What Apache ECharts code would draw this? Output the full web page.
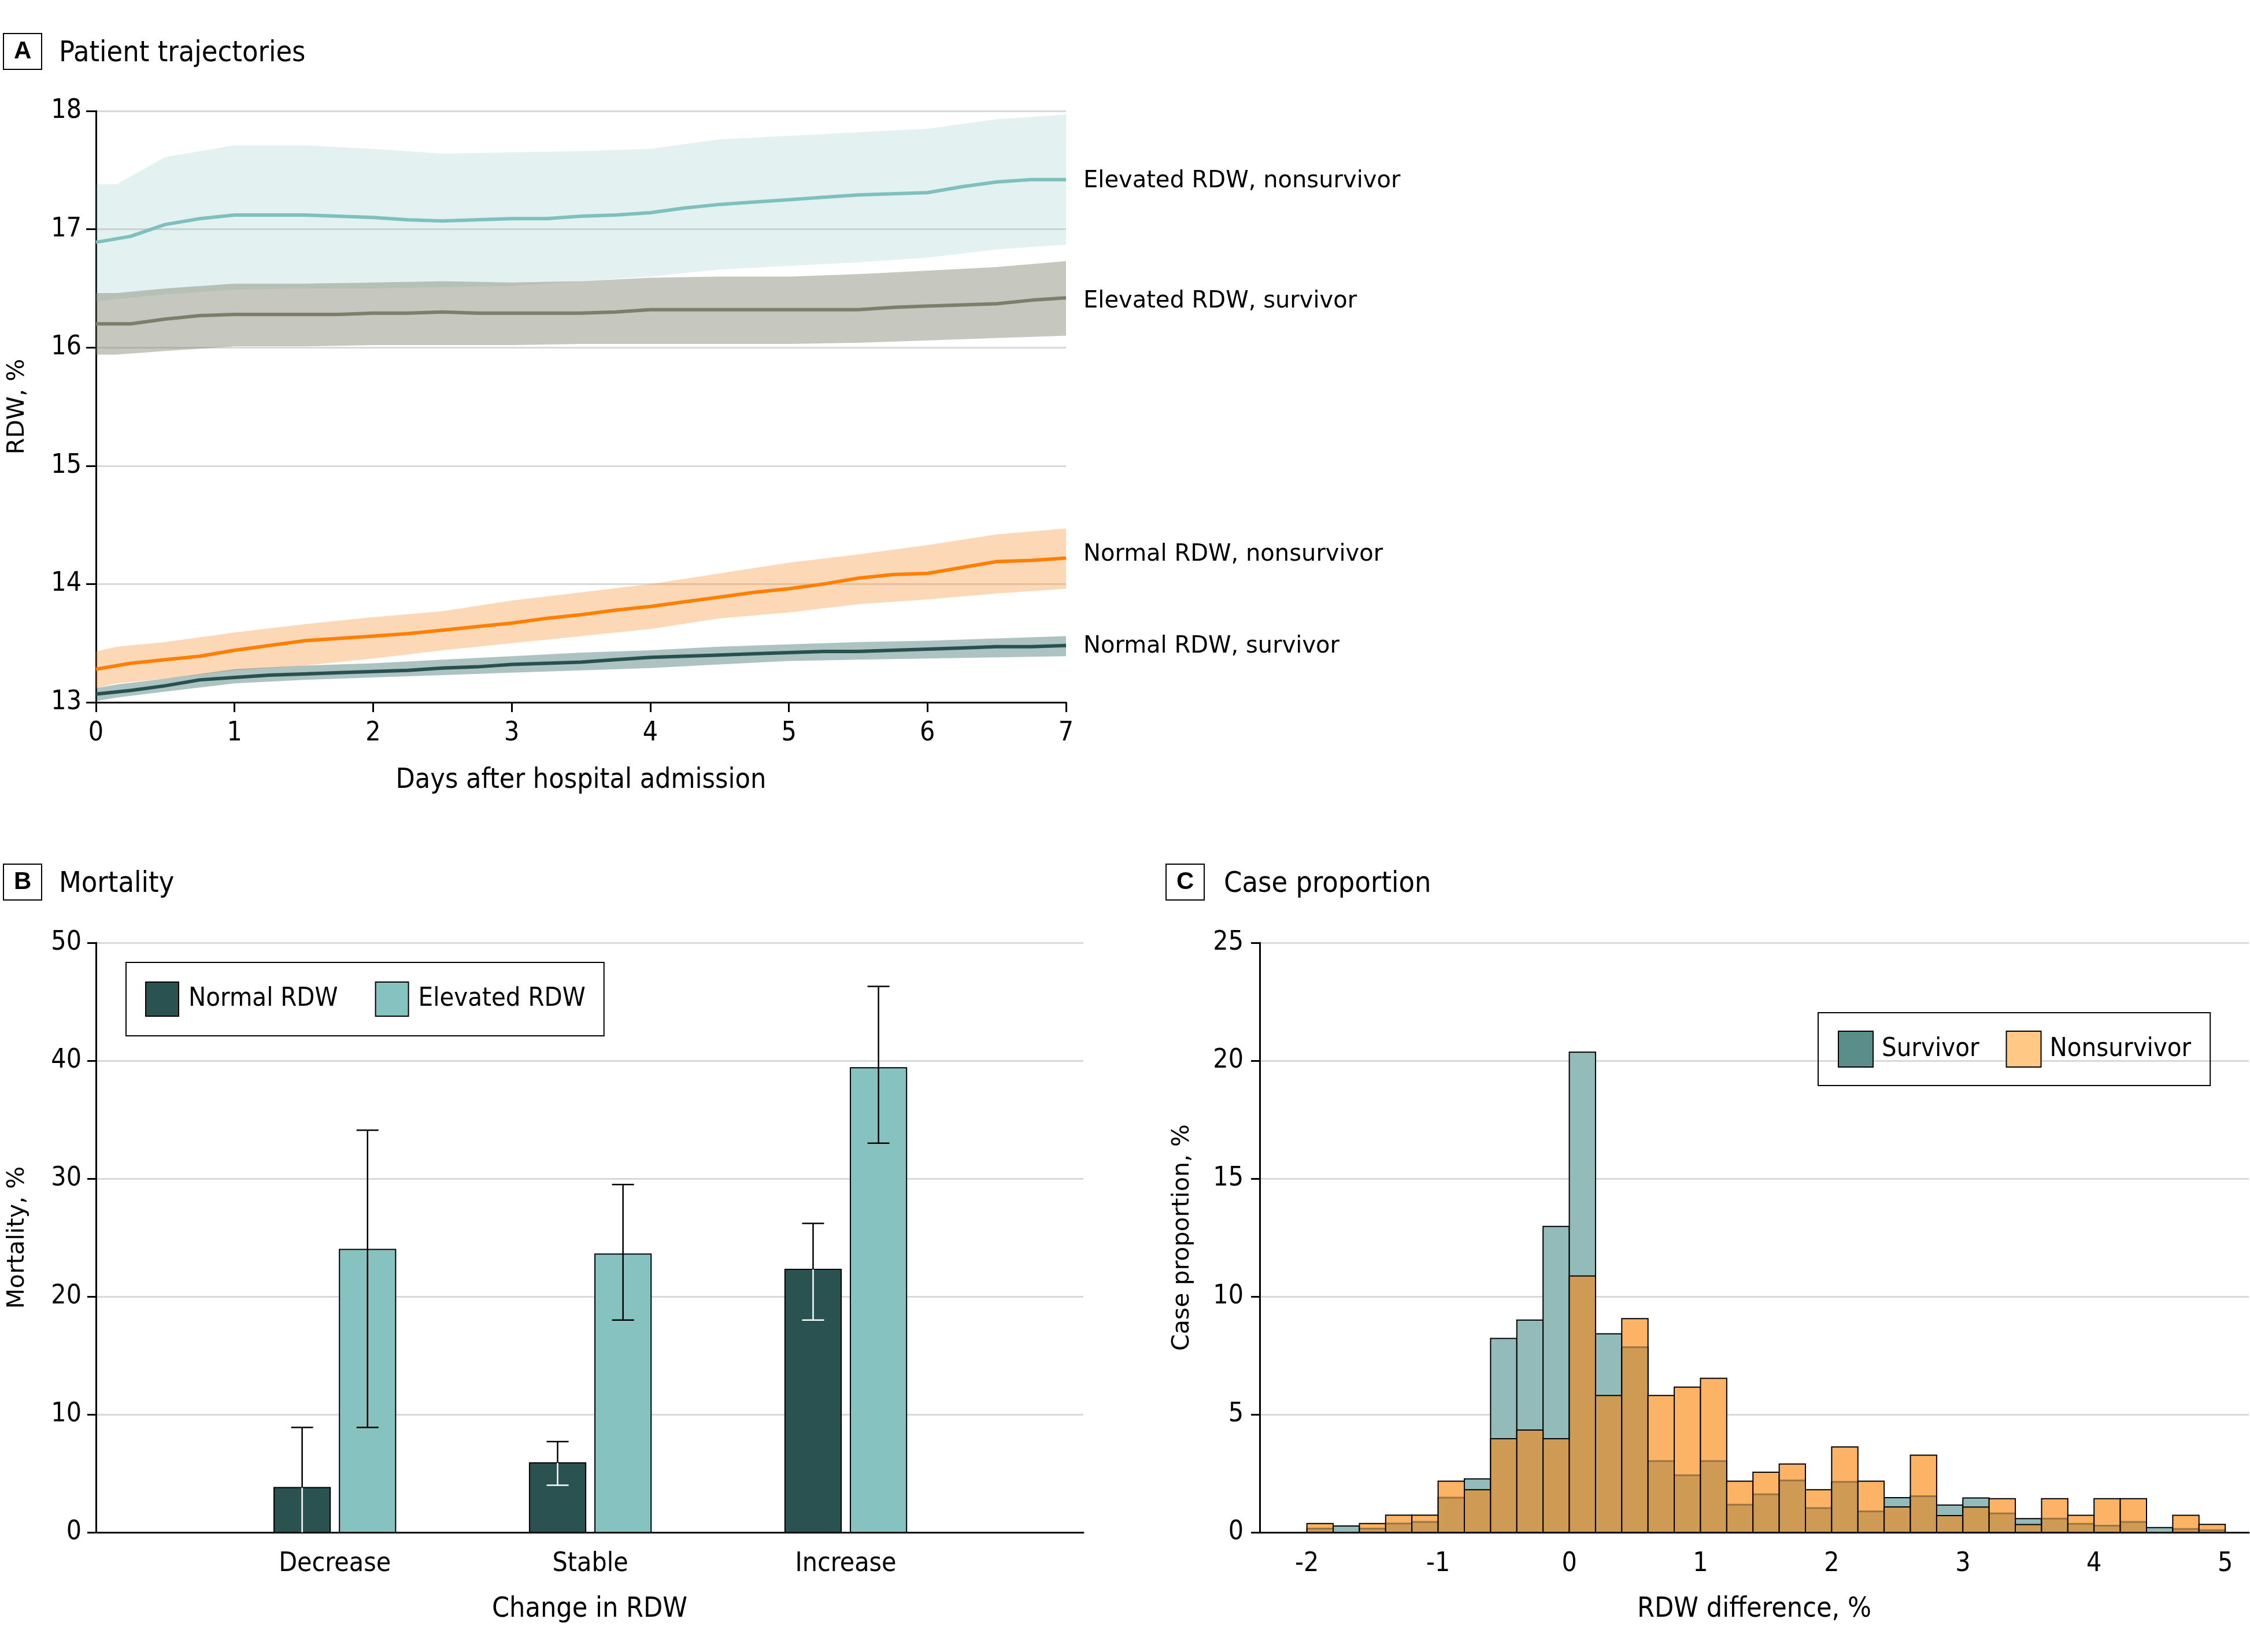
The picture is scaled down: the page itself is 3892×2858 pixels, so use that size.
<!DOCTYPE html>
<html><head><meta charset="utf-8">
<script src="https://cdn.jsdelivr.net/npm/echarts@6/dist/echarts.min.js"></script>
<style>html,body{margin:0;padding:0;background:#fff}#c{width:3892px;height:2858px}</style>
</head><body><div id="c"></div>
<script>
// ---------- Panel A data ----------
const lineDays = [0,0.25,0.5,0.75,1,1.25,1.5,1.75,2,2.25,2.5,2.75,3,3.25,3.5,3.75,4,4.25,4.5,4.75,5,5.25,5.5,5.75,6,6.25,6.5,6.75,7];
const elevNonsurv = [16.89,16.94,17.04,17.09,17.12,17.12,17.12,17.11,17.10,17.08,17.07,17.08,17.09,17.09,17.11,17.12,17.14,17.18,17.21,17.23,17.25,17.27,17.29,17.30,17.31,17.36,17.40,17.42,17.42];
const elevSurv    = [16.20,16.20,16.24,16.27,16.28,16.28,16.28,16.28,16.29,16.29,16.30,16.29,16.29,16.29,16.29,16.30,16.32,16.32,16.32,16.32,16.32,16.32,16.32,16.34,16.35,16.36,16.37,16.40,16.42];
const normNonsurv = [13.28,13.33,13.36,13.39,13.44,13.48,13.52,13.54,13.56,13.58,13.61,13.64,13.67,13.71,13.74,13.78,13.81,13.85,13.89,13.93,13.96,14.00,14.05,14.08,14.09,14.14,14.19,14.20,14.22];
const normSurv    = [13.07,13.10,13.14,13.19,13.21,13.23,13.24,13.25,13.26,13.27,13.29,13.30,13.32,13.33,13.34,13.36,13.38,13.39,13.40,13.41,13.42,13.43,13.43,13.44,13.45,13.46,13.47,13.47,13.48];

const bandDays = [0,0.15,0.5,1,1.5,2,2.5,3,3.5,4,4.5,5,5.5,6,6.5,7];
const elevNonsurvHi = [17.38,17.38,17.61,17.71,17.71,17.68,17.64,17.65,17.66,17.68,17.76,17.79,17.82,17.85,17.93,17.97];
const elevNonsurvLo = [16.39,16.41,16.45,16.49,16.50,16.50,16.51,16.52,16.56,16.60,16.66,16.69,16.72,16.76,16.83,16.87];
const elevSurvHi    = [16.46,16.46,16.50,16.54,16.54,16.55,16.56,16.55,16.56,16.59,16.60,16.60,16.62,16.65,16.68,16.73];
const elevSurvLo    = [15.94,15.94,15.97,16.01,16.01,16.02,16.02,16.02,16.03,16.03,16.03,16.03,16.04,16.06,16.08,16.10];
const normNonsurvHi = [13.43,13.47,13.51,13.59,13.66,13.72,13.77,13.86,13.93,14.00,14.09,14.18,14.25,14.33,14.42,14.47];
const normNonsurvLo = [13.12,13.16,13.20,13.27,13.31,13.37,13.44,13.50,13.56,13.62,13.71,13.76,13.83,13.87,13.92,13.96];
const normSurvHi    = [13.12,13.15,13.20,13.28,13.31,13.33,13.36,13.39,13.42,13.44,13.47,13.49,13.51,13.52,13.54,13.56];
const normSurvLo    = [13.01,13.04,13.09,13.16,13.19,13.21,13.23,13.25,13.27,13.29,13.32,13.35,13.36,13.37,13.38,13.39];

// ---------- Panel B data ----------
const categories = ['Decrease','Stable','Increase'];
const normalMort = [3.8, 5.9, 22.3];
const normalLow  = [0, 4.0, 18.0];
const normalHigh = [8.9, 7.7, 26.2];
const elevMort   = [24.0, 23.6, 39.4];
const elevLow    = [8.9, 18.0, 33.0];
const elevHigh   = [34.1, 29.5, 46.3];

// ---------- Panel C data ----------
const binLefts = [-2.0,-1.8,-1.6,-1.4,-1.2,-1.0,-0.8,-0.6,-0.4,-0.2,0.0,0.2,0.4,0.6,0.8,1.0,1.2,1.4,1.6,1.8,2.0,2.2,2.4,2.6,2.8,3.0,3.2,3.4,3.6,3.8,4.0,4.2,4.4,4.6,4.8];
const binWidth = 0.2;
const survivorPct    = [0.16,0.27,0.16,0.375,0.44,1.47,2.27,8.22,9.0,12.97,20.36,8.42,7.85,3.02,2.42,3.02,1.17,1.61,2.2,1.03,2.14,0.89,1.47,1.53,1.16,1.46,0.8,0.58,0.58,0.36,0.28,0.44,0.2,0.14,0.09];
const nonsurvivorPct = [0.375,0,0.375,0.73,0.73,2.17,1.81,3.97,4.34,3.97,10.87,5.8,9.06,5.8,6.16,6.53,2.17,2.55,2.9,1.81,3.62,2.17,1.08,3.27,0.71,1.07,1.43,0.33,1.43,0.72,1.43,1.43,0,0.72,0.34];
const histTicks = [-2,-1,0,1,2,3,4,5];

// ---------- styles ----------
const F = '"DejaVu Sans Condensed", "Liberation Sans Narrow", sans-serif';
const FW = '"DejaVu Sans", sans-serif';
const TXT = '#000';
const GRIDC = '#D9D9D9';

const chart = echarts.init(document.getElementById('c'), null, {renderer: 'canvas', width: 3892, height: 2858});

function bandSeries(lo, hi, color) {
  return {
    type: 'custom', xAxisIndex: 0, yAxisIndex: 0, z: 1, silent: true,
    data: bandDays.map((d, i) => [d, lo[i], hi[i]]),
    renderItem: (params, api) => {
      if (params.dataIndex !== 0) return null;
      const pts = [];
      for (let i = 0; i < bandDays.length; i++) pts.push(api.coord([bandDays[i], hi[i]]));
      for (let i = bandDays.length - 1; i >= 0; i--) pts.push(api.coord([bandDays[i], lo[i]]));
      return {type: 'polygon', shape: {points: pts}, style: {fill: color}};
    }
  };
}
function lineSeries(name, vals, color, offY) {
  return {
    type: 'line', name, xAxisIndex: 0, yAxisIndex: 0, z: 3, showSymbol: false, silent: true,
    data: lineDays.map((d, i) => [d, vals[i]]),
    lineStyle: {color, width: 6, join: 'round'},
    itemStyle: {color},
    endLabel: {show: true, formatter: name, distance: 30, offset: [0, offY || 0], fontSize: 40, fontFamily: FW, color: TXT}
  };
}

const barHalf = 0.11, barOff = 0.128;
function barSeries(name, vals, color, sign) {
  return {
    type: 'custom', name, xAxisIndex: 1, yAxisIndex: 1, z: 2,
    itemStyle: {color},
    data: vals.map((v, i) => [i + 1, v]),
    renderItem: (params, api) => {
      const x = api.value(0) + sign * barOff, v = api.value(1);
      const a = api.coord([x - barHalf, v]), b = api.coord([x + barHalf, 0]);
      return {type: 'rect', shape: {x: a[0], y: a[1], width: b[0] - a[0], height: b[1] - a[1]},
        style: {fill: color, stroke: '#000', lineWidth: 2}};
    }
  };
}
function errSeries(vals, lows, highs, sign, dark) {
  return {
    type: 'custom', xAxisIndex: 1, yAxisIndex: 1, z: 4, silent: true,
    data: vals.map((v, i) => [i + 1, lows[i], highs[i], v]),
    renderItem: (params, api) => {
      const x = api.value(0) + sign * barOff;
      const lo = api.value(1), hi = api.value(2), top = api.value(3);
      const pLo = api.coord([x, lo]), pHi = api.coord([x, hi]), pTop = api.coord([x, top]);
      const cap = 19, w = 2.5;
      const inner = dark ? '#fff' : '#000';
      const ch = [];
      ch.push({type: 'line', shape: {x1: pLo[0], y1: pLo[1], x2: pTop[0], y2: Math.max(pTop[1], pHi[1])}, style: {stroke: inner, lineWidth: w}});
      if (hi > top) ch.push({type: 'line', shape: {x1: pTop[0], y1: pTop[1], x2: pHi[0], y2: pHi[1]}, style: {stroke: '#000', lineWidth: w}});
      ch.push({type: 'line', shape: {x1: pHi[0] - cap, y1: pHi[1], x2: pHi[0] + cap, y2: pHi[1]}, style: {stroke: hi > top ? '#000' : inner, lineWidth: w}});
      if (lo > 0) ch.push({type: 'line', shape: {x1: pLo[0] - cap, y1: pLo[1], x2: pLo[0] + cap, y2: pLo[1]}, style: {stroke: lo < top ? inner : '#000', lineWidth: w}});
      return {type: 'group', children: ch};
    }
  };
}

const SURV_FILL = '#93BBB9', NON_FILL = '#FDB366', OVER_FILL = '#CF9B54';
const survivorSeries = {
  type: 'custom', name: 'Survivor', xAxisIndex: 2, yAxisIndex: 2, z: 2,
  itemStyle: {color: '#5A8E8A'},
  data: binLefts.map((b, i) => [b, survivorPct[i]]),
  renderItem: (params, api) => {
    const x0 = api.value(0), v = api.value(1);
    if (!(v > 0)) return null;
    const a = api.coord([x0, v]), b = api.coord([x0 + binWidth, 0]);
    return {type: 'rect', shape: {x: a[0], y: a[1], width: b[0] - a[0], height: b[1] - a[1]},
      style: {fill: SURV_FILL, stroke: '#000', lineWidth: 2}};
  }
};
const nonsurvivorSeries = {
  type: 'custom', name: 'Nonsurvivor', xAxisIndex: 2, yAxisIndex: 2, z: 3,
  itemStyle: {color: '#FFC985'},
  data: binLefts.map((b, i) => [b, nonsurvivorPct[i], survivorPct[i]]),
  renderItem: (params, api) => {
    const x0 = api.value(0), n = api.value(1), s = api.value(2);
    if (!(n > 0)) return null;
    const ch = [];
    const m = Math.min(n, s);
    const base = api.coord([x0 + binWidth, 0]);
    if (m > 0) {
      const a = api.coord([x0, m]);
      ch.push({type: 'rect', shape: {x: a[0], y: a[1], width: base[0] - a[0], height: base[1] - a[1]}, style: {fill: OVER_FILL}});
    }
    if (n > s) {
      const a = api.coord([x0, n]), c = api.coord([x0 + binWidth, s]);
      ch.push({type: 'rect', shape: {x: a[0], y: a[1], width: c[0] - a[0], height: c[1] - a[1]}, style: {fill: NON_FILL}});
      if (s > 0) {
        const l = api.coord([x0, s]);
        ch.push({type: 'line', shape: {x1: l[0], y1: l[1], x2: c[0], y2: c[1]}, style: {stroke: '#9B7443', lineWidth: 3}});
      }
    }
    const t = api.coord([x0, n]);
    ch.push({type: 'rect', shape: {x: t[0], y: t[1], width: base[0] - t[0], height: base[1] - t[1]}, style: {fill: 'none', stroke: '#000', lineWidth: 2}});
    return {type: 'group', children: ch};
  }
};

function boxTitle(letter, left, top) {
  return {text: letter, left, top, padding: [10, 18, 10, 18], borderColor: '#000', borderWidth: 2,
    textStyle: {fontSize: 42, fontWeight: 'bold', fontFamily: '"Liberation Sans", sans-serif', lineHeight: 40, color: TXT}};
}
function textTitle(text, left, top) {
  return {text, left, top, padding: 0, textStyle: {fontSize: 50, fontWeight: 'normal', fontFamily: F, lineHeight: 50, color: TXT}};
}

const axisLineBlack = {show: true, onZero: false, lineStyle: {color: '#000', width: 3}};
const labelStyle = {fontSize: 46, fontFamily: F, color: TXT};

const option = {
  animation: false,
  backgroundColor: '#fff',
  title: [
    boxTitle('A', 6, 59), textTitle('Patient trajectories', 102, 68),
    boxTitle('B', 6, 1496), textTitle('Mortality', 102, 1505),
    boxTitle('C', 2017, 1496), textTitle('Case proportion', 2117, 1505)
  ],
  legend: [
    {data: ['Normal RDW', 'Elevated RDW'], left: 218, top: 1665, orient: 'horizontal',
     padding: [33, 32, 33, 33], itemWidth: 57, itemHeight: 59, itemGap: 64, icon: 'rect',
     borderColor: '#000', borderWidth: 2, selectedMode: false,
     itemStyle: {borderColor: '#000', borderWidth: 2},
     textStyle: {fontSize: 45, fontFamily: F, color: TXT, padding: [0, 0, 0, 12]}},
    {data: ['Survivor', 'Nonsurvivor'], left: 3145, top: 1752, orient: 'horizontal',
     padding: [31, 33, 31, 34], itemWidth: 60, itemHeight: 62, itemGap: 46, icon: 'rect',
     borderColor: '#000', borderWidth: 2, selectedMode: false,
     itemStyle: {borderColor: '#000', borderWidth: 2},
     textStyle: {fontSize: 45, fontFamily: F, color: TXT, padding: [0, 0, 0, 10]}}
  ],
  grid: [
    {left: 166, top: 192, width: 1678, height: 1023, outerBoundsMode: 'none', containLabel: false},
    {left: 166, top: 1631, width: 1708, height: 1020, outerBoundsMode: 'none', containLabel: false},
    {left: 2179, top: 1631, width: 1711, height: 1020, outerBoundsMode: 'none', containLabel: false}
  ],
  xAxis: [
    {gridIndex: 0, type: 'value', min: 0, max: 7, interval: 1,
     axisLine: axisLineBlack, axisTick: {show: true, length: 17, lineStyle: {color: '#000', width: 3}},
     axisLabel: Object.assign({margin: 31}, labelStyle), splitLine: {show: false},
     name: 'Days after hospital admission', nameLocation: 'middle', nameGap: 112,
     nameTextStyle: {fontSize: 48, fontFamily: F, color: TXT}},
    {gridIndex: 1, type: 'value', min: 0.065, max: 3.93,
     axisLine: axisLineBlack, axisTick: {show: false},
     axisLabel: Object.assign({margin: 32, customValues: [1, 2, 3], formatter: v => categories[Math.round(v) - 1] || ''}, labelStyle),
     splitLine: {show: false},
     name: 'Change in RDW', nameLocation: 'middle', nameGap: 110,
     nameTextStyle: {fontSize: 48, fontFamily: F, color: TXT}},
    {gridIndex: 2, type: 'value', min: -2.36, max: 5.18,
     axisLine: axisLineBlack, axisTick: {show: false},
     axisLabel: Object.assign({margin: 32, customValues: histTicks, formatter: v => String(v)}, labelStyle),
     splitLine: {show: false},
     name: 'RDW difference, %', nameLocation: 'middle', nameGap: 110,
     nameTextStyle: {fontSize: 48, fontFamily: F, color: TXT}}
  ],
  yAxis: [
    {gridIndex: 0, type: 'value', min: 13, max: 18, interval: 1,
     axisLine: axisLineBlack, axisTick: {show: true, length: 17, lineStyle: {color: '#000', width: 3}},
     axisLabel: Object.assign({margin: 25}, labelStyle),
     splitLine: {show: true, lineStyle: {color: GRIDC, width: 3}},
     name: 'RDW, %', nameLocation: 'middle', nameGap: 115,
     nameTextStyle: {fontSize: 41, fontFamily: FW, color: TXT}},
    {gridIndex: 1, type: 'value', min: 0, max: 50, interval: 10,
     axisLine: axisLineBlack, axisTick: {show: true, length: 15, lineStyle: {color: '#000', width: 3}},
     axisLabel: Object.assign({margin: 25}, labelStyle),
     splitLine: {show: true, lineStyle: {color: GRIDC, width: 3}},
     name: 'Mortality, %', nameLocation: 'middle', nameGap: 115,
     nameTextStyle: {fontSize: 41, fontFamily: FW, color: TXT}},
    {gridIndex: 2, type: 'value', min: 0, max: 25, interval: 5,
     axisLine: axisLineBlack, axisTick: {show: true, length: 15, lineStyle: {color: '#000', width: 3}},
     axisLabel: Object.assign({margin: 28}, labelStyle),
     splitLine: {show: true, lineStyle: {color: GRIDC, width: 3}},
     name: 'Case proportion, %', nameLocation: 'middle', nameGap: 113,
     nameTextStyle: {fontSize: 41, fontFamily: FW, color: TXT}}
  ],
  series: [
    bandSeries(elevNonsurvLo, elevNonsurvHi, 'rgba(125,192,190,0.21)'),
    bandSeries(elevSurvLo, elevSurvHi, 'rgba(126,127,108,0.44)'),
    bandSeries(normNonsurvLo, normNonsurvHi, 'rgba(248,140,40,0.34)'),
    bandSeries(normSurvLo, normSurvHi, 'rgba(40,100,98,0.39)'),
    lineSeries('Elevated RDW, nonsurvivor', elevNonsurv, '#7EC0BE', 3),
    lineSeries('Elevated RDW, survivor', elevSurv, '#7D7F6A', 6),
    lineSeries('Normal RDW, nonsurvivor', normNonsurv, '#FF8000', -6),
    lineSeries('Normal RDW, survivor', normSurv, '#27514F', 2),
    barSeries('Normal RDW', normalMort, '#2A5250', -1),
    barSeries('Elevated RDW', elevMort, '#86C2C0', 1),
    errSeries(normalMort, normalLow, normalHigh, -1, true),
    errSeries(elevMort, elevLow, elevHigh, 1, false),
    survivorSeries,
    nonsurvivorSeries
  ]
};
chart.setOption(option);
</script>
</body></html>
